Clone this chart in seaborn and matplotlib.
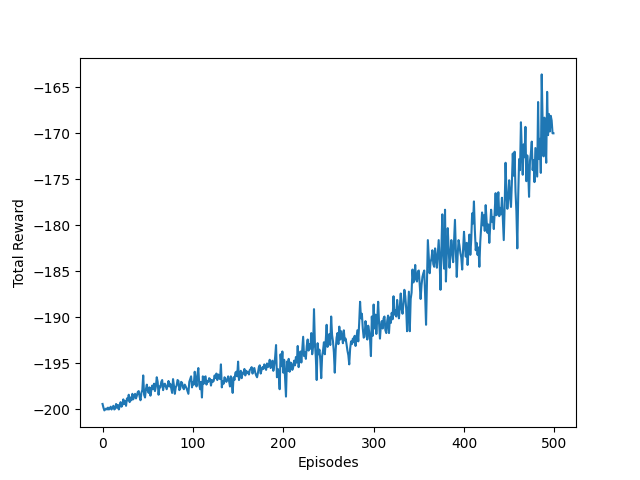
import numpy as np
import pandas as pd
import matplotlib
matplotlib.use("Agg")
import matplotlib.pyplot as plt
import seaborn as sns

rewards = [
    -199.4, -199.8, -200.1, -200.0, -199.9, -200.0, -199.8, -200.0, -199.9, -199.7,
    -200.0, -199.8, -199.6, -200.0, -199.9, -199.4, -199.8, -199.5, -200.0, -199.6,
    -199.2, -199.7, -199.5, -198.9, -199.4, -199.1, -199.6, -198.8, -199.0, -198.4,
    -199.2, -198.7, -199.0, -198.3, -198.9, -198.6, -198.3, -198.8, -198.5, -198.1,
    -198.0, -198.6, -199.0, -198.2, -197.9, -196.3, -198.4, -198.7, -197.8, -197.3,
    -197.9, -198.2, -197.6, -198.5, -197.9, -197.4, -197.8, -197.2, -198.0, -197.5,
    -196.5, -197.0, -198.4, -197.5, -197.6, -197.0, -196.8, -197.9, -197.3, -197.2,
    -197.5, -197.8, -197.4, -196.9, -197.5, -197.2, -197.7, -198.2, -196.7, -197.4,
    -198.3, -197.6, -197.4, -196.8, -196.9, -197.9, -197.7, -197.0, -197.1, -197.6,
    -197.8, -197.3, -197.5, -197.7, -198.0, -198.3, -197.0, -196.7, -196.4, -197.6,
    -197.0, -197.3, -195.9, -196.8, -197.5, -196.2, -195.5, -197.3, -197.8, -197.0,
    -198.7, -196.4, -197.2, -196.5, -196.4, -197.3, -196.9, -197.0, -196.6, -196.7,
    -197.4, -196.8, -197.0, -196.9, -196.3, -196.6, -196.1, -196.8, -196.2, -196.5,
    -196.7, -195.1, -197.6, -196.9, -197.2, -196.5, -196.7, -197.0, -196.8, -196.4,
    -196.9, -197.5, -196.4, -197.1, -198.2, -196.5, -196.8, -196.0, -195.9, -196.4,
    -194.8, -196.8, -196.4, -195.8, -196.6, -196.0, -196.1, -195.6, -196.3, -195.8,
    -196.0, -195.9, -196.2, -195.7, -195.6, -195.4, -196.1, -195.6, -195.5, -196.0,
    -196.3, -196.5, -196.0, -195.4, -195.2, -196.1, -195.7, -195.4, -195.6, -195.1,
    -195.3, -195.7, -195.0, -195.4, -195.2, -194.6, -195.5, -195.3, -194.7, -195.8,
    -195.2, -194.3, -193.0, -196.5, -195.6, -196.2, -197.8, -194.0, -195.3, -193.7,
    -196.0, -194.6, -196.6, -198.6, -194.8, -195.8, -194.5, -195.9, -194.9, -195.0,
    -195.7, -195.4, -194.7, -195.2, -194.3, -194.9, -193.1, -195.4, -194.4, -193.7,
    -194.9, -193.5, -192.1, -194.2, -193.8, -194.5, -193.1, -192.4, -193.6, -192.9,
    -193.4, -191.7, -194.0, -193.2, -189.1, -192.8, -194.3, -196.8, -192.8, -194.0,
    -193.5, -194.6, -196.6, -194.2, -193.6, -192.7, -194.0, -192.5, -190.8, -193.2,
    -192.8, -191.8, -193.0, -189.9, -191.9, -192.6, -193.8, -196.0, -193.5, -192.2,
    -191.7, -192.9, -191.0, -192.4, -191.5, -192.0, -192.8, -191.4, -192.5, -192.3,
    -192.9, -193.6, -194.1, -195.1, -193.4, -192.6, -192.9, -192.3, -192.7, -192.0,
    -193.1, -192.2, -191.4, -192.6, -190.6, -188.3, -190.1, -189.6, -191.2, -192.2,
    -192.1, -190.4, -191.2, -192.4, -190.9, -191.5, -192.3, -194.2, -189.9, -192.0,
    -188.6, -191.2, -189.7, -191.8, -190.2, -188.3, -190.6, -192.3, -190.9, -190.4,
    -191.2, -190.1, -189.9, -191.4, -191.7, -190.4, -189.8, -191.7, -190.0, -190.6,
    -189.5, -190.2, -187.7, -189.7, -189.2, -189.9, -188.1, -189.3, -190.1, -188.8,
    -187.4, -189.1, -189.6, -188.5, -187.0, -187.7, -189.0, -191.5, -189.4, -187.2,
    -191.5, -188.0, -187.3, -184.8, -186.2, -185.7, -184.3, -185.9, -186.1, -185.0,
    -184.9, -186.4, -188.0, -186.5, -185.6, -185.2, -184.9, -187.6, -190.8, -186.2,
    -181.6, -183.5, -185.2, -184.0, -183.6, -182.7, -184.2, -184.5, -182.5, -183.4,
    -184.6, -183.1, -181.6, -183.8, -187.0, -182.5, -178.8, -183.1, -184.7, -178.3,
    -186.1, -183.0, -180.3, -182.5, -184.6, -183.2, -181.6, -182.9, -184.0, -181.7,
    -179.4, -182.8, -185.6, -183.2, -181.6, -182.2, -183.0, -183.5, -184.8, -182.6,
    -180.7, -182.3, -183.4, -181.9, -184.3, -182.5, -181.0, -183.2, -181.6, -178.7,
    -179.8, -177.4, -180.5, -182.7, -181.9, -183.2, -182.4, -184.5, -181.8, -180.2,
    -178.6, -180.0, -178.9, -180.6, -177.8, -179.5, -180.8, -179.9, -181.9, -180.2,
    -178.3, -179.6, -179.1, -180.4, -178.5, -176.5, -178.9, -177.8, -176.4, -179.0,
    -178.1, -178.8, -177.0, -179.3, -181.6, -177.9, -173.2, -176.4, -178.2, -177.0,
    -175.1, -176.9, -178.0, -175.3, -172.2, -174.6, -172.0, -176.3, -178.5, -182.5,
    -176.8, -172.8, -174.0, -168.8, -171.9, -174.5, -171.2, -172.6, -169.3, -175.2,
    -172.4, -174.1, -176.9, -173.0, -172.2, -170.9, -174.0, -172.9, -175.3, -171.6,
    -173.2, -174.7, -166.6, -172.8, -170.6, -174.3, -163.6, -168.7, -172.5, -168.3,
    -171.1, -173.2, -165.5, -170.2, -167.9, -169.8, -168.1, -168.6, -170.0, -170.0,
]
episodes = list(range(len(rewards)))

df = pd.DataFrame({"Episodes": episodes, "Total Reward": rewards})

fig, ax = plt.subplots(figsize=(6.4, 4.8), dpi=100)
sns.lineplot(data=df, x="Episodes", y="Total Reward", ax=ax, color="#1f77b4", linewidth=1.5)
ax.set_xlabel("Episodes")
ax.set_ylabel("Total Reward")
fig.savefig("out.png", dpi=100)
